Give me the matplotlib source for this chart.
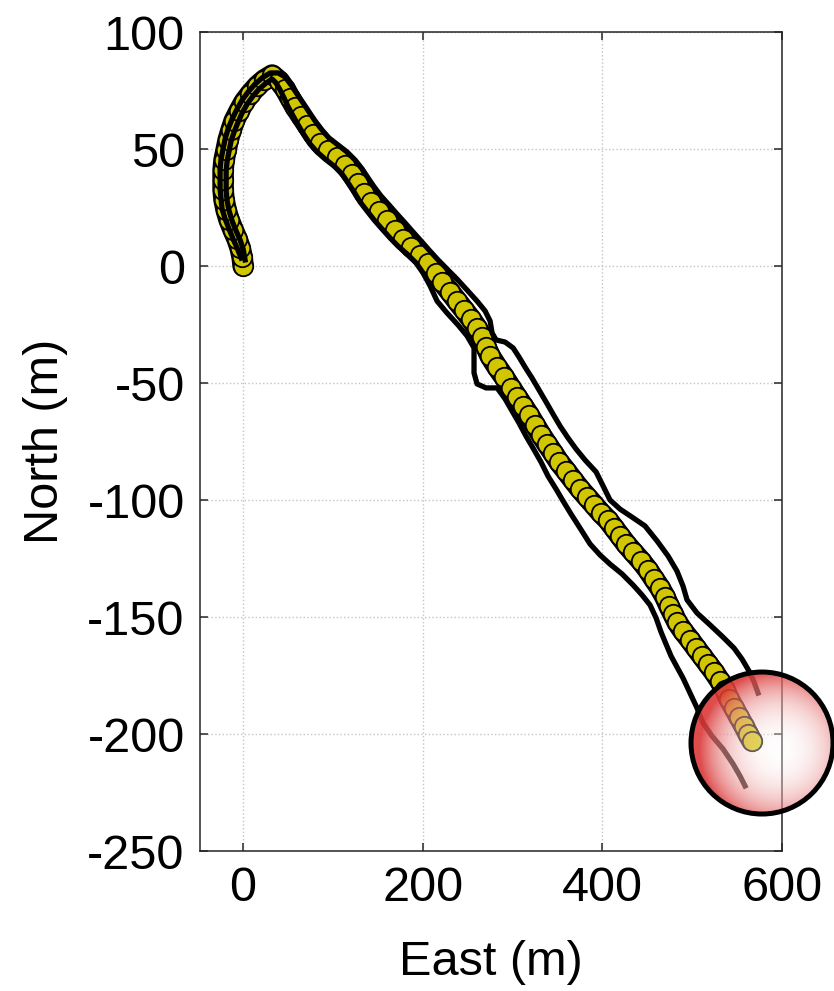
import numpy as np
import matplotlib.pyplot as plt
import matplotlib.transforms as mtransforms
from matplotlib.patches import Circle

plt.rcParams['font.family'] = ['Liberation Sans', 'DejaVu Sans']
plt.rcParams['axes.unicode_minus'] = False

# vehicle trajectory (East, North) in metres
east = [0.0, -1.1, -3.3, -6.7, -11.1, -15.6, -18.9, -21.2, -22.3, -22.3, -22.3, -21.2,
        -18.9, -16.7, -13.4, -10.0, -4.5, 1.1, 7.8, 15.6, 23.4, 32.3,
        40.1, 46.8, 52.3, 57.9, 64.6, 71.2, 77.9, 85.7, 94.6, 104.6, 113.5, 121.3,
        128.0, 134.7, 142.5, 151.4, 160.3, 169.2, 178.1, 187.0, 197.0, 205.9, 214.8,
        221.5, 230.4, 238.2, 246.0, 253.8, 260.5, 266.1, 270.5, 275.0, 282.8, 290.5,
        298.3, 305.0, 311.7, 318.4, 325.1, 331.7, 338.4, 345.1, 351.8, 359.6, 367.4,
        375.1, 382.9, 390.7, 398.5, 406.3, 413.0, 419.7, 426.4, 434.1, 443.1, 450.8,
        457.5, 464.2, 469.8, 474.2, 478.7, 483.1, 489.8, 497.6, 504.3, 511.0, 517.6,
        524.3, 531.0, 536.6, 541.0, 546.6, 552.1, 557.7, 562.2, 566.6]
north = [0.0, 3.8, 7.7, 11.5, 15.4, 19.7, 23.9, 28.2, 32.5, 36.8, 41.0, 45.3,
         49.6, 53.8, 58.1, 62.0, 66.2, 70.1, 73.5, 76.9, 79.5, 81.6,
         79.1, 75.6, 71.8, 68.0, 64.1, 60.3, 56.4, 52.6, 49.6, 46.6, 43.2, 39.3,
         35.5, 31.2, 27.4, 23.5, 19.7, 15.4, 11.5, 8.1, 4.7, 1.3, -3.0,
         -6.8, -11.1, -15.0, -18.8, -22.7, -26.5, -30.3, -34.6, -38.5, -43.2, -47.4,
         -52.1, -56.0, -59.8, -63.7, -68.0, -72.2, -76.1, -79.9, -83.8, -87.6, -91.5,
         -95.3, -98.7, -102.1, -105.6, -108.6, -112.0, -115.4, -118.8, -122.2, -126.1, -129.9,
         -133.8, -137.6, -141.5, -145.3, -148.7, -152.2, -156.0, -159.8, -163.3, -166.7, -170.1,
         -173.5, -177.4, -181.2, -185.1, -188.9, -192.8, -196.6, -200.0, -203.0]

# road boundary on the left of travel (north-east side after the turn)
edge1_east = [-2.2, -6.7, -11.1, -15.6, -20.0, -23.4, -24.5, -25.6, -25.6, -25.6, -24.5,
              -22.3, -20.0, -16.7, -12.2, -6.7, -1.1, 5.6, 13.4, 21.2, 30.1, 39.0, 46.8,
              53.4, 60.1, 66.8, 73.5, 80.2, 87.9, 95.7, 105.8, 115.8, 124.7, 132.5, 139.2,
              145.9, 153.6, 162.5, 171.4, 180.4, 189.3, 198.2, 207.1, 217.1, 227.1, 238.2,
              249.4, 260.5, 269.4, 275.0, 277.2, 281.6, 291.7, 300.6, 307.2, 313.9, 321.7,
              329.5, 337.3, 345.1, 352.9, 361.8, 370.7, 380.7, 393.0, 400.8, 408.5, 419.7,
              433.0, 447.5, 460.9, 473.1, 483.1, 489.8, 494.3, 505.4, 519.9, 534.3, 546.6,
              555.5, 563.3, 568.9, 573.3]
edge1_north = [3.4, 7.7, 11.5, 15.8, 20.1, 24.4, 28.6, 32.9, 37.2, 41.5, 45.7,
               50.0, 54.3, 58.6, 62.8, 67.1, 70.9, 74.4, 77.8, 80.4, 82.5, 82.5, 80.8,
               77.4, 73.5, 69.7, 65.8, 62.0, 58.1, 54.7, 51.7, 48.7, 45.3, 41.5, 37.6,
               33.8, 29.9, 26.1, 22.2, 18.4, 14.5, 10.7, 6.8, 2.6, -1.3, -5.6,
               -10.3, -15.0, -19.2, -23.5, -28.6, -31.6, -32.5, -35.0, -38.9, -43.2, -47.9,
               -53.0, -58.1, -63.3, -68.4, -73.5, -78.2, -82.9, -88.0, -94.0, -100.0, -103.9,
               -107.3, -111.1, -117.5, -123.9, -130.4, -136.8, -142.7, -148.3, -153.4, -158.6, -163.3,
               -168.0, -173.1, -177.8, -182.5]

# road boundary on the right of travel (south-west side after the turn)
edge2_east = [2.2, 0.0, -3.3, -7.8, -12.2, -15.6, -17.8, -18.9, -18.9, -18.9, -17.8,
              -15.6, -13.4, -10.0, -5.6, -1.1, 4.5, 11.1, 17.8, 25.6, 32.3, 36.7, 41.2,
              45.6, 50.1, 55.7, 61.2, 67.9, 74.6, 82.4, 91.3, 101.3, 110.2, 116.9, 123.6,
              130.2, 138.0, 145.8, 154.7, 163.6, 172.5, 182.6, 192.6, 200.4, 208.2, 216.0,
              227.1, 239.3, 249.4, 257.1, 257.1, 257.1, 260.5, 270.5, 282.8, 291.7, 299.5,
              307.2, 315.0, 322.8, 331.7, 339.5, 348.4, 356.2, 365.1, 375.1, 386.3, 397.4,
              408.5, 421.9, 434.1, 444.2, 453.1, 459.8, 465.3, 470.9, 476.5, 483.1, 489.8,
              497.6, 505.4, 512.1, 522.1, 534.3, 545.5, 553.3, 558.8]
edge2_north = [2.6, 7.3, 11.1, 15.0, 19.2, 23.5, 27.8, 32.1, 36.3, 40.6, 44.9,
               49.2, 53.4, 57.3, 61.5, 65.4, 69.2, 72.7, 75.6, 78.2, 79.9, 78.2, 75.2,
               71.8, 68.0, 64.1, 60.3, 56.0, 52.1, 48.7, 45.7, 42.7, 39.3, 35.5, 31.6,
               27.4, 23.5, 19.7, 15.8, 12.0, 8.5, 5.1, 1.3, -3.0, -8.5, -15.0,
               -20.1, -25.2, -29.9, -35.0, -40.6, -45.7, -50.4, -52.1, -52.1, -56.8, -62.0,
               -67.1, -72.7, -77.8, -83.8, -89.8, -95.3, -100.4, -106.0, -112.0, -118.8, -123.5,
               -127.4, -131.6, -136.3, -140.6, -144.9, -150.4, -156.4, -161.6, -166.7, -171.4, -176.1,
               -182.5, -188.9, -195.3, -200.9, -206.4, -212.8, -218.0, -222.2]

xticks = [0, 200, 400, 600]
yticks = [-250, -200, -150, -100, -50, 0, 50, 100]

fig = plt.figure(figsize=(8.34, 9.91), dpi=100)
ax = fig.add_axes([200 / 834, 140 / 991, 582 / 834, 819 / 991])

# trajectory: dense circle markers forming a yellow band
ax.plot(east, north, color='black', lw=15.5, solid_capstyle='round',
        solid_joinstyle='round', zorder=2)
ax.plot(east, north, color='#b8ad00', lw=12, solid_capstyle='round',
        solid_joinstyle='round', zorder=2)
ax.plot(east, north, 'o', ms=14, mfc='#d2c600', mec='black', mew=1.3, zorder=2)
ax.plot(edge1_east, edge1_north, color='black', lw=3.8, zorder=3, solid_joinstyle='round')
ax.plot(edge2_east, edge2_north, color='black', lw=3.8, zorder=3, solid_joinstyle='round')

ax.set_xlim(-48, 600)
ax.set_ylim(-250, 100)
ax.set_xticks(xticks)
ax.set_yticks(yticks)
ax.grid(True, linestyle=':', color='#c4c4c4', lw=1.0)
ax.set_axisbelow(True)
for s in ax.spines.values():
    s.set_color('#262626')
    s.set_linewidth(1.1)
ax.tick_params(direction='in', length=6, width=1.1, top=True, right=True,
               labelsize=35, pad=11, colors='#262626', labelcolor='black')
ax.set_xlabel('East (m)', fontsize=35, labelpad=21)
ax.set_ylabel('North (m)', fontsize=35, labelpad=14)

# vehicle marker at the end of the trajectory: red glass disc
cx, cy = ax.transData.transform((east[-1], north[-1]))
cx += 10
cy -= 2
R = 71
yy, xx = np.mgrid[-R:R + 1, -R:R + 1]
r = np.hypot(xx, yy)
t = np.clip(np.hypot(xx - 16, yy + 6) / (R + 8), 0, 1)
red = np.array([0.86, 0.22, 0.22])
img = np.ones((2 * R + 1, 2 * R + 1, 4))
for k in range(3):
    img[..., k] = 1.0 * (1 - t ** 1.6) + red[k] * t ** 1.6
img[..., 3] = np.where(r <= R, 0.35 + 0.55 * t ** 2, 0.0)
fig.figimage(img, xo=int(cx - R), yo=int(cy - R), origin='lower', zorder=5)
fig.add_artist(Circle((cx, cy), R, transform=mtransforms.IdentityTransform(),
                      fill=False, ec='black', lw=3.6, zorder=6))

fig.savefig('out.png', dpi=100)
